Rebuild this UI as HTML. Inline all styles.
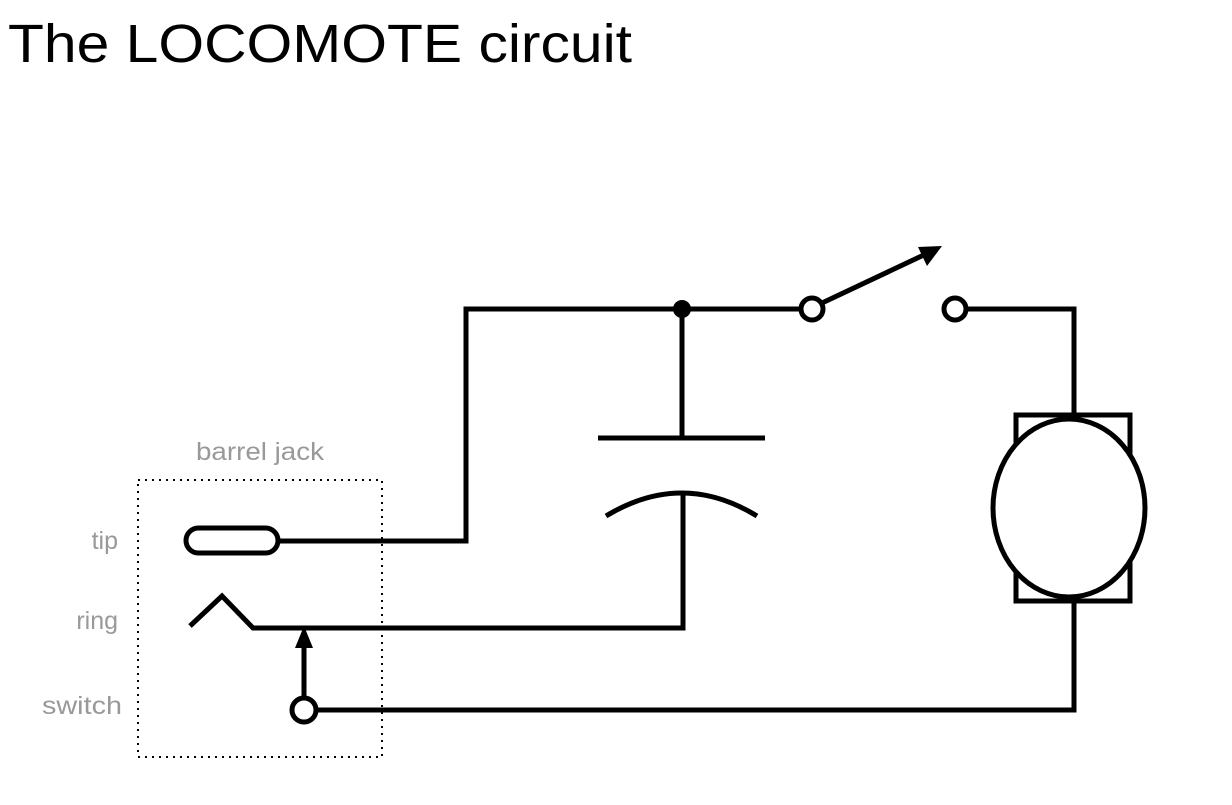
<!DOCTYPE html>
<html><head><style>
body{margin:0;background:#fff;width:1232px;height:805px;overflow:hidden}
svg{display:block}
</style></head><body>
<svg width="1232" height="805" viewBox="0 0 1232 805" xmlns="http://www.w3.org/2000/svg">
<text x="8" y="62" font-family="Liberation Sans, sans-serif" font-size="54" fill="#000" textLength="624" lengthAdjust="spacingAndGlyphs">The LOCOMOTE circuit</text>
<g font-family="Liberation Sans, sans-serif" font-size="25" fill="#999">
<text x="260" y="460" text-anchor="middle" textLength="128" lengthAdjust="spacingAndGlyphs">barrel jack</text>
<text x="118" y="549" text-anchor="end">tip</text>
<text x="118" y="629" text-anchor="end">ring</text>
<text x="122" y="714" text-anchor="end" textLength="80" lengthAdjust="spacingAndGlyphs">switch</text>
</g>
<rect x="138" y="480" width="244" height="277" fill="none" stroke="#000" stroke-width="2" stroke-dasharray="2,5"/>
<g fill="none" stroke="#000" stroke-width="5">
<rect x="186" y="528" width="92" height="25" rx="12.5"/>
<polyline points="278,541 466,541 466,309 800,309"/>
<line x1="682" y1="309" x2="682" y2="438"/>
<line x1="598" y1="438" x2="765" y2="438"/>
<path d="M606,516 Q682,470 757,516"/>
<polyline points="190,626 222,596 253,628 683,628 683,495"/>
<line x1="304" y1="698" x2="304" y2="640"/>
<circle cx="304" cy="710" r="12"/>
<polyline points="316,710 1074,710 1074,601"/>
<circle cx="812" cy="309" r="11"/>
<line x1="822" y1="303" x2="928" y2="253"/>
<circle cx="955" cy="309" r="11"/>
<polyline points="966,309 1074,309 1074,415"/>
<rect x="1016" y="415" width="114" height="186"/>
<ellipse cx="1069" cy="508" rx="76" ry="89" fill="#fff"/>
</g>
<circle cx="682" cy="309" r="9" fill="#000"/>
<polygon points="304,626 295,648 313,648" fill="#000"/>
<polygon points="942,246 918,247 927,266" fill="#000"/>
</svg>
</body></html>
